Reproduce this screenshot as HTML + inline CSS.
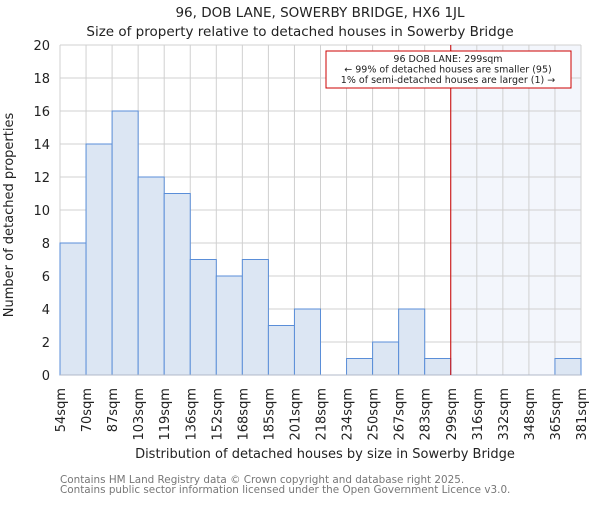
<!DOCTYPE html>
<html><head><meta charset="utf-8"><style>body{margin:0;background:#fff}svg{font-family:"DejaVu Sans","Liberation Sans",sans-serif}</style></head>
<body>
<svg width="600" height="500" xmlns="http://www.w3.org/2000/svg">
<g id="root"></g>
</svg>
<script>
const categories=["54sqm","70sqm","87sqm","103sqm","119sqm","136sqm","152sqm","168sqm","185sqm","201sqm","218sqm","234sqm","250sqm","267sqm","283sqm","299sqm","316sqm","332sqm","348sqm","365sqm","381sqm"];
const counts=[8,14,16,12,11,7,6,7,3,4,0,1,2,4,1,0,0,0,0,1];
const yTicks=[0,2,4,6,8,10,12,14,16,18,20];
const markerBin=15;
const NS="http://www.w3.org/2000/svg";
const root=document.getElementById('root');
const L=60,R=581,T=45,B=375,n=counts.length;
const bw=(R-L)/n;
const x=i=>L+i*bw;
const y=v=>B-(v/20)*(B-T);
function mk(tag,attrs,parent){const e=document.createElementNS(NS,tag);for(const k in attrs)e.setAttribute(k,attrs[k]);(parent||root).appendChild(e);return e;}
let e;
e=mk('rect',{x:x(markerBin),y:T,width:R-x(markerBin),height:B-T,fill:'#f3f6fc'});


for(let i=0;i<=n;i++){e=mk('line',{x1:x(i),x2:x(i),y1:T,y2:B,stroke:'#d0d0d0','stroke-width':1});

}
yTicks.forEach(v=>{e=mk('line',{x1:L,x2:R,y1:y(v),y2:y(v),stroke:'#d0d0d0','stroke-width':1});


e=mk('text',{x:L-10,y:y(v)+5,'text-anchor':'end','font-size':13,fill:'#222'});e.textContent=v;

});
counts.forEach((c,i)=>{if(c<=0)return;e=mk('rect',{x:x(i),y:y(c),width:bw,height:B-y(c),fill:'#dce6f3',stroke:'#5a8ed8','stroke-width':1});

});
e=mk('line',{x1:L,x2:R,y1:B,y2:B,stroke:'#b0b8c8','stroke-width':1});


categories.forEach((c,i)=>{const tx=x(i)+5;e=mk('text',{x:tx,y:388,'text-anchor':'end','font-size':13,fill:'#222',transform:`rotate(-90 ${tx} 388)`});e.textContent=c;

});
e=mk('line',{x1:x(markerBin),x2:x(markerBin),y1:T,y2:B,stroke:'#cc0000','stroke-width':1});


e=mk('rect',{x:326,y:51,width:245,height:37,fill:'#fff',stroke:'#cc0000','stroke-width':1});


["96 DOB LANE: 299sqm","← 99% of detached houses are smaller (95)","1% of semi-detached houses are larger (1) →"].forEach((t,i)=>{e=mk('text',{x:448,y:62+i*10.5,'text-anchor':'middle','font-size':9.5,fill:'#222'});e.textContent=t;

});
e=mk('text',{x:320,y:17,'text-anchor':'middle','font-size':13.5,fill:'#222'});e.textContent="96, DOB LANE, SOWERBY BRIDGE, HX6 1JL";


e=mk('text',{x:300,y:36,'text-anchor':'middle','font-size':13.5,fill:'#222'});e.textContent="Size of property relative to detached houses in Sowerby Bridge";


e=mk('text',{x:325,y:458,'text-anchor':'middle','font-size':13,fill:'#222'});e.textContent="Distribution of detached houses by size in Sowerby Bridge";


e=mk('text',{x:13,y:215,'text-anchor':'middle','font-size':13,fill:'#222',transform:'rotate(-90 13 215)'});e.textContent="Number of detached properties";


["Contains HM Land Registry data © Crown copyright and database right 2025.","Contains public sector information licensed under the Open Government Licence v3.0."].forEach((t,i)=>{e=mk('text',{x:60,y:483+i*10,'font-size':10.4,fill:'#777'});e.textContent=t;

});
</script>
</body></html>
